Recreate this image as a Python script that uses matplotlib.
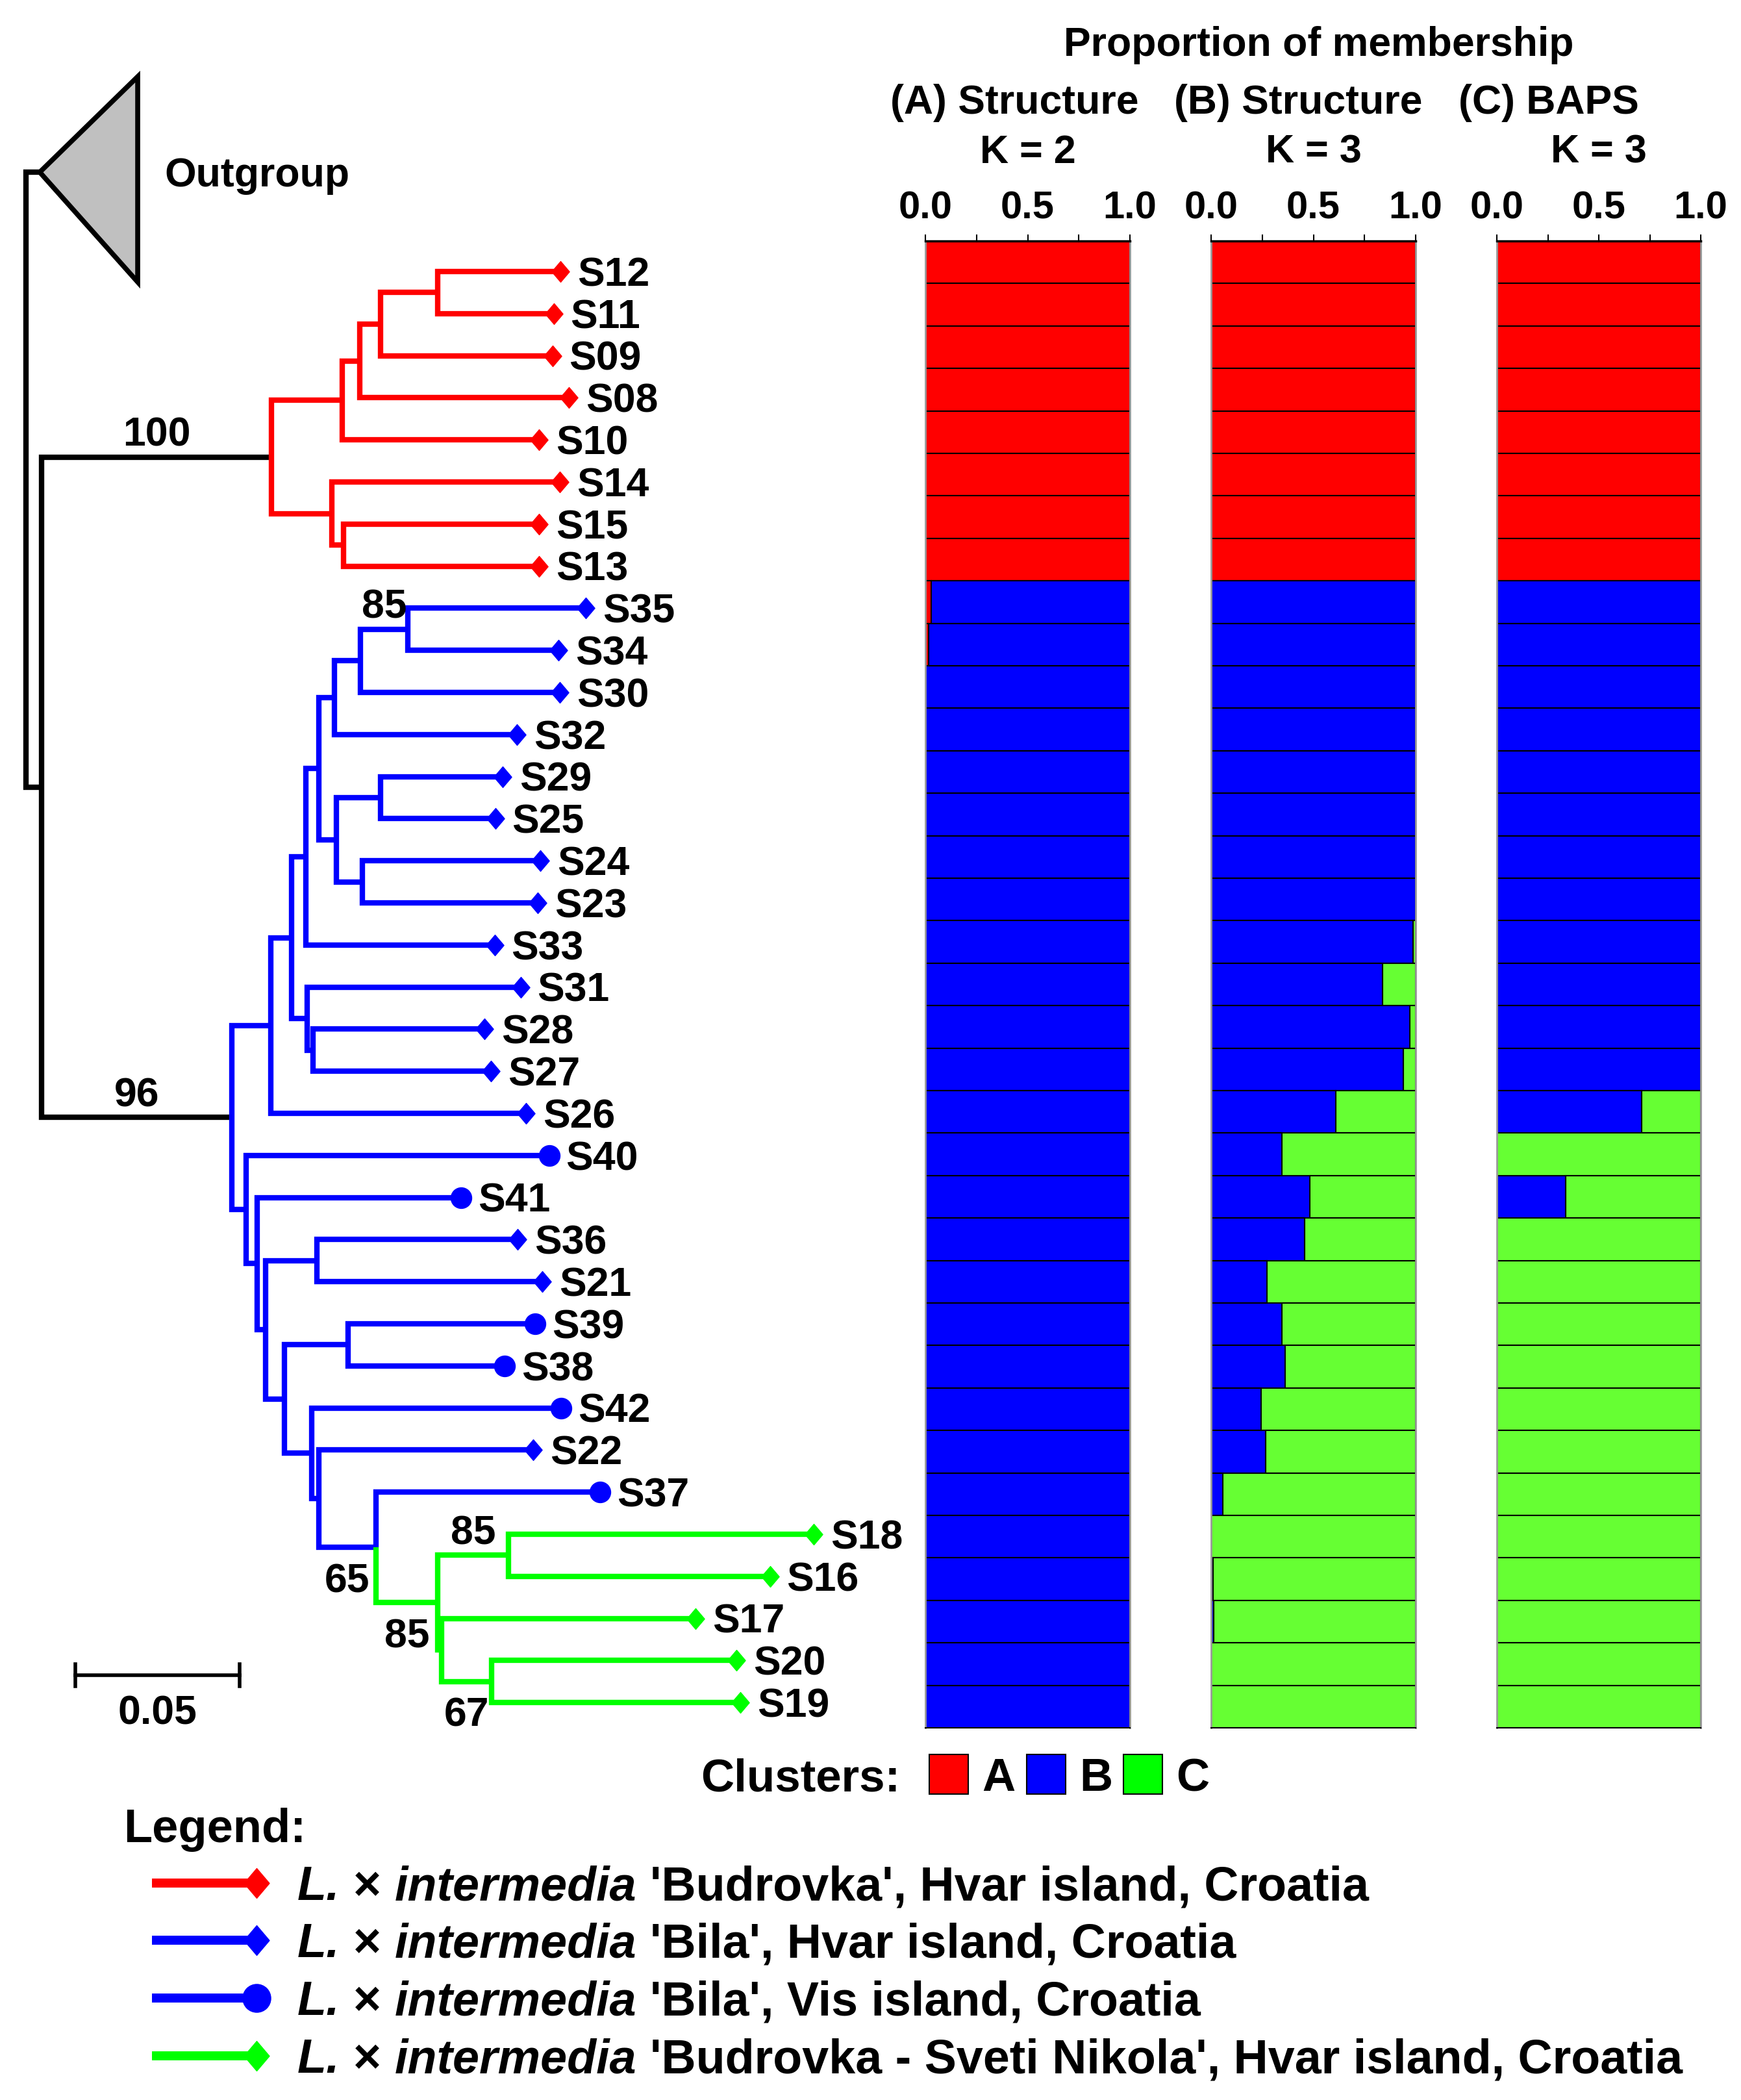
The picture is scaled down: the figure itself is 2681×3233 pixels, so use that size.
import matplotlib
matplotlib.use('Agg')
import matplotlib.pyplot as plt
from matplotlib.path import Path
from matplotlib.patches import Polygon, Rectangle
import numpy as np

plt.rcParams['font.family'] = ['Liberation Sans', 'DejaVu Sans']
plt.rcParams['font.weight'] = 'bold'

# ======================= DATA =======================
# Neighbour-joining tree: (parent, child, branch length in substitutions/site)
EDGES = [
    ('root', 'Outgroup', 0.0042), ('root', 'N0', 0.0047),
    ('N0', 'R', 0.0700), ('N0', 'B0', 0.0579),
    ('R', 'a', 0.0215), ('R', 'e', 0.0184),
    ('a', 'b', 0.0053), ('a', 'S10', 0.0599),
    ('b', 'c', 0.0065), ('b', 'S08', 0.0638),
    ('c', 'd', 0.0172), ('c', 'S09', 0.0522),
    ('d', 'S12', 0.0375), ('d', 'S11', 0.0354),
    ('e', 'S14', 0.0694), ('e', 'f', 0.0036),
    ('f', 'S15', 0.0595), ('f', 'S13', 0.0595),
    ('B0', 'B1', 0.0119), ('B0', 'B2', 0.0043),
    ('B1', 'B3', 0.0063), ('B1', 'S26', 0.0777),
    ('B3', 'B4', 0.0043), ('B3', 'B5', 0.0047),
    ('B4', 'B6', 0.0040), ('B4', 'S33', 0.0575),
    ('B6', 'B7', 0.0047), ('B6', 'B8', 0.0053),
    ('B7', 'B9', 0.0079), ('B7', 'S32', 0.0557),
    ('B9', 'B10', 0.0146), ('B9', 'S30', 0.0607),
    ('B10', 'S35', 0.0540), ('B10', 'S34', 0.0457),
    ('B8', 'B11', 0.0136), ('B8', 'B12', 0.0079),
    ('B11', 'S29', 0.0370), ('B11', 'S25', 0.0348),
    ('B12', 'S24', 0.0542), ('B12', 'S23', 0.0534),
    ('B5', 'S31', 0.0650), ('B5', 'B13', 0.0018),
    ('B13', 'S28', 0.0522), ('B13', 'S27', 0.0542),
    ('B2', 'S40', 0.0923), ('B2', 'B14', 0.0034),
    ('B14', 'S41', 0.0621), ('B14', 'B15', 0.0026),
    ('B15', 'B16', 0.0156), ('B15', 'B17', 0.0057),
    ('B16', 'S36', 0.0611), ('B16', 'S21', 0.0686),
    ('B17', 'B18', 0.0194), ('B17', 'B19', 0.0083),
    ('B18', 'S39', 0.0569), ('B18', 'S38', 0.0476),
    ('B19', 'S42', 0.0759), ('B19', 'B20', 0.0022),
    ('B20', 'S22', 0.0652), ('B20', 'B21', 0.0174),
    ('B21', 'S37', 0.0682), ('B21', 'G0', 0.0188),
    ('G0', 'G1', 0.0215), ('G0', 'G2', 0.0012),
    ('G1', 'S18', 0.0929), ('G1', 'S16', 0.0796),
    ('G2', 'S17', 0.0773), ('G2', 'G3', 0.0152),
    ('G3', 'S20', 0.0745), ('G3', 'S19', 0.0757),
]

# Tip order (top to bottom), same order as the membership bars
SAMPLES = ['S12', 'S11', 'S09', 'S08', 'S10', 'S14', 'S15', 'S13',
           'S35', 'S34', 'S30', 'S32', 'S29', 'S25', 'S24', 'S23', 'S33',
           'S31', 'S28', 'S27', 'S26', 'S40', 'S41', 'S36', 'S21', 'S39',
           'S38', 'S42', 'S22', 'S37', 'S18', 'S16', 'S17', 'S20', 'S19']

VIS_SAMPLES = ['S37', 'S38', 'S39', 'S40', 'S41', 'S42']   # circle markers

# collapsed outgroup (depth of the triangle, vertical span in tip units)
OUTGROUP_DEPTH = 0.0298
OUTGROUP_SPAN = (-4.63, 0.25)
OUTGROUP_Y = -2.36

# bootstrap support: node -> (value, side)
BOOTSTRAP = {'R': (100, 'above'), 'B0': (96, 'above'), 'B10': (85, 'above'),
             'B21': (65, 'below'), 'G1': (85, 'above'), 'G0': (85, 'below'),
             'G3': (67, 'below')}

SCALE_LEN = 0.05

# Proportion of membership
A_red = [1.0] * 8 + [0.028, 0.016] + [0.0] * 25
A_green = [0.0] * 35

B_red = [1.0] * 8 + [0.0] * 27
B_green = [0.0] * 8 + [0.0, 0.0, 0.0, 0.0, 0.0, 0.0, 0.0, 0.0,
                       0.013, 0.162, 0.027, 0.059, 0.391, 0.655, 0.518,
                       0.542, 0.728, 0.655, 0.639, 0.757, 0.733, 0.943,
                       1.0, 0.992, 0.987, 1.0, 1.0]

C_red = [1.0] * 8 + [0.0] * 27
C_green = [0.0] * 8 + [0.0] * 12 + [0.289, 1.0, 0.662] + [1.0] * 12

PANEL_TITLES = ['(A) Structure', '(B) Structure', '(C) BAPS']
PANEL_K = ['K = 2', 'K = 3', 'K = 3']

CLUSTERS = ['A', 'B', 'C']

LEGEND_CULTIVARS = ['Budrovka', 'Bila', 'Bila', 'Budrovka - Sveti Nikola']
LEGEND_PLACES = ['Hvar island, Croatia', 'Hvar island, Croatia',
                 'Vis island, Croatia', 'Hvar island, Croatia']

# ======================= STYLE / LAYOUT =======================
RED, BLUE, GREEN = '#FF0000', '#0000FF', '#00FF00'
BAR_GREEN = '#66FF33'
CLADE_COLOR = {'root': 'black', 'R': RED, 'B0': BLUE, 'G0': GREEN}
STEM_COLOR = {'G0': GREEN}
LEGEND_COLORS = [RED, BLUE, BLUE, GREEN]
CLUSTER_COLORS = [RED, BLUE, GREEN]

W, H, DPI = 2681, 3233, 100
PX2PT = 72.0 / DPI
CAP = 0.358  # half cap-height / font size

DIAMOND = Path([(0, 1), (0.85, 0), (0, -1), (-0.85, 0), (0, 1)],
               [Path.MOVETO, Path.LINETO, Path.LINETO, Path.LINETO, Path.CLOSEPOLY])

fig = plt.figure(figsize=(W / DPI, H / DPI), dpi=DPI)

# ---------- tree ----------
ROOT_PX, UNIT_PX, TIP0_PX, STEP_PX, TREE_RIGHT_PX = 40, 5060, 418, 64.8, 1420
tax = fig.add_axes([0, 0, TREE_RIGHT_PX / W, 1])
tax.set_xlim(-ROOT_PX / UNIT_PX, (TREE_RIGHT_PX - ROOT_PX) / UNIT_PX)
tax.set_ylim((H - TIP0_PX) / STEP_PX, -TIP0_PX / STEP_PX)
tax.axis('off')

children, parent_of, blen = {}, {}, {}
for p, c, b in EDGES:
    children.setdefault(p, []).append(c)
    parent_of[c] = p
    blen[c] = b

X = {'root': 0.0}
def set_x(n):
    for c in children.get(n, []):
        X[c] = X[n] + blen[c]
        set_x(c)
set_x('root')

Y = {s: i for i, s in enumerate(SAMPLES)}
Y['Outgroup'] = OUTGROUP_Y
def set_y(n):
    if n in Y:
        return Y[n]
    ys = [set_y(c) for c in children[n]]
    Y[n] = float(np.mean(ys))
    return Y[n]
set_y('root')

def color_of(n):
    while n not in CLADE_COLOR:
        n = parent_of[n]
    return CLADE_COLOR[n]

LW = 6.0
for p, c, b in EDGES:
    col = STEM_COLOR.get(c, color_of(p))
    tax.plot([X[p], X[p], X[c]], [Y[p], Y[c], Y[c]], color=col, lw=LW,
             solid_joinstyle='miter', solid_capstyle='butt', zorder=2)

# outgroup triangle
ox = X['Outgroup']
tax.add_patch(Polygon([(ox, Y['Outgroup']), (ox + OUTGROUP_DEPTH, OUTGROUP_SPAN[0]),
                       (ox + OUTGROUP_DEPTH, OUTGROUP_SPAN[1])], closed=True,
                      facecolor='#C0C0C0', edgecolor='black', lw=5.5,
                      joinstyle='miter', zorder=3))
FS_TIP = 45
tax.annotate('Outgroup', (ox + OUTGROUP_DEPTH, Y['Outgroup']),
             xytext=(41 * PX2PT, -CAP * FS_TIP), textcoords='offset points',
             ha='left', va='baseline', fontsize=FS_TIP, fontweight='bold')

# tips
for s in SAMPLES:
    col = color_of(s)
    if s in VIS_SAMPLES:
        tax.plot(X[s], Y[s], marker='o', ms=23, color=col, mec=col, zorder=4)
    else:
        tax.plot(X[s], Y[s], marker=DIAMOND, ms=23, color=col, mec=col, zorder=4)
    tax.annotate(s, (X[s], Y[s]), xytext=(26 * PX2PT, -CAP * FS_TIP),
                 textcoords='offset points', ha='left', va='baseline',
                 fontsize=FS_TIP, fontweight='bold')

# bootstrap values
for n, (v, side) in BOOTSTRAP.items():
    xm = 0.5 * (X[n] + X[parent_of[n]])
    dy = 17 * PX2PT if side == 'above' else -(24 + 45) * PX2PT
    tax.annotate(str(v), (xm, Y[n]), xytext=(0, dy), textcoords='offset points',
                 ha='center', va='baseline', fontsize=FS_TIP, fontweight='bold')

# scale bar
sb_x0 = (116 - ROOT_PX) / UNIT_PX
sb_y = (2579 - TIP0_PX) / STEP_PX
tick_h = 17 / STEP_PX
tax.plot([sb_x0, sb_x0 + SCALE_LEN], [sb_y, sb_y], color='black', lw=4.0)
for xx in (sb_x0, sb_x0 + SCALE_LEN):
    tax.plot([xx, xx], [sb_y - tick_h, sb_y + tick_h], color='black', lw=4.0)
tax.annotate(f'{SCALE_LEN:.2f}', (sb_x0 + SCALE_LEN / 2, sb_y),
             xytext=(0, -(53 + CAP * FS_TIP / PX2PT) * PX2PT), textcoords='offset points',
             ha='center', va='baseline', fontsize=FS_TIP, fontweight='bold')

# ---------- membership bars ----------
PANEL_X = [(1425, 1740), (1865, 2180), (2305, 2619)]
BAR_TOP, BAR_BOT = 371, 2660
panels = [(A_red, A_green), (B_red, B_green), (C_red, C_green)]
yy = np.arange(len(SAMPLES))
for (x0, x1), (red, green) in zip(PANEL_X, panels):
    ax = fig.add_axes([x0 / W, 1 - BAR_BOT / H, (x1 - x0) / W, (BAR_BOT - BAR_TOP) / H])
    red = np.array(red)
    green = np.array(green)
    blue = np.clip(1 - red - green, 0, 1)
    left = np.zeros(len(SAMPLES))
    for vals, col in ((red, RED), (blue, BLUE), (green, BAR_GREEN)):
        m = vals > 1e-6
        ax.barh(yy[m], vals[m], left=left[m], height=1.0, color=col,
                edgecolor='black', linewidth=1.5)
        left = left + vals
    ax.set_xlim(0, 1)
    ax.set_ylim(len(SAMPLES) - 0.5, -0.5)
    ax.set_yticks([])
    ax.set_xticks([0, 0.25, 0.5, 0.75, 1.0])
    ax.set_xticklabels(['0.0', '', '0.5', '', '1.0'])
    ax.xaxis.tick_top()
    ax.tick_params(axis='x', length=10 * PX2PT, width=1.5, direction='out',
                   pad=9, labelsize=43)
    for sp in ('left', 'right'):
        ax.spines[sp].set_color('0.6')
        ax.spines[sp].set_linewidth(2)
    ax.spines['top'].set_linewidth(2.5)
    ax.spines['bottom'].set_linewidth(1.5)

# ---------- layout overlay (titles, legends) ----------
lay = fig.add_axes([0, 0, 1, 1])
lay.set_xlim(0, W)
lay.set_ylim(H, 0)
lay.axis('off')

def ptext(x, y, s, size, ha='center', style='normal'):
    return lay.text(x, y + CAP * size / PX2PT, s, fontsize=size, ha=ha, va='baseline',
                    fontstyle=style, fontweight='bold')

ptext(2031, 64, 'Proportion of membership', 45)
for cx, t in zip([1562, 1999, 2385], PANEL_TITLES):
    ptext(cx, 153, t, 45)
for (x0, x1), k in zip(PANEL_X, PANEL_K):
    ptext((x0 + x1) / 2, 229, k, 44)

# clusters legend
ptext(1386, 2732, 'Clusters:', 51, ha='right')
box_x = [1431, 1581, 1730]
for bx, col, lab in zip(box_x, CLUSTER_COLORS, CLUSTERS):
    lay.add_patch(Rectangle((bx, 2701), 60, 61, facecolor=col, edgecolor='black', lw=1.5))
    ptext(bx + 81, 2732, lab, 51, ha='left')

# sample legend
ptext(190, 2810, 'Legend:', 52, ha='left')
renderer = fig.canvas.get_renderer()

def wpx(s, size, style):
    t = lay.text(0, 0, s, fontsize=size, fontstyle=style, fontweight='bold')
    w = t.get_window_extent(renderer).width
    t.remove()
    return w

LFS = 53
space = wpx('x x', LFS, 'normal') - wpx('xx', LFS, 'normal')
leg_y = [2899, 2987, 3076, 3165]
for ly, col, cv, place, is_vis in zip(leg_y, LEGEND_COLORS, LEGEND_CULTIVARS,
                                      LEGEND_PLACES, [False, False, True, False]):
    lay.plot([234, 390], [ly, ly], color=col, lw=10, solid_capstyle='butt')
    if is_vis:
        lay.plot([395], [ly], marker='o', ms=31, color=col, mec=col)
    else:
        lay.plot([395], [ly], marker=DIAMOND, ms=33, color=col, mec=col)
    pieces = [('L.', 'italic'), ('×', 'normal'), ('intermedia', 'italic'),
              (f"'{cv}', {place}", 'normal')]
    cx = 458
    for s, st in pieces:
        ptext(cx, ly, s, LFS, ha='left', style=st)
        cx += wpx(s, LFS, st) + space

fig.savefig('out.png', dpi=DPI)
